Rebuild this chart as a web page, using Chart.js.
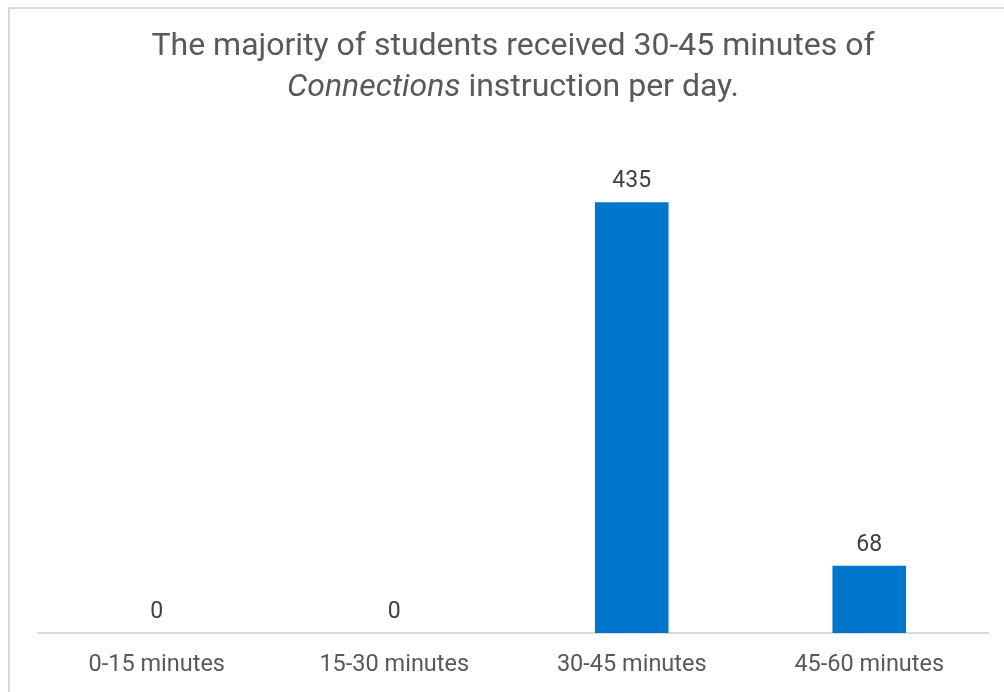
<!DOCTYPE html>
<html>
<head>
<meta charset="utf-8">
<script src="https://cdn.jsdelivr.net/npm/chart.js@4"></script>
<style>
    html, body { margin: 0; padding: 0; background: #fff; overflow: hidden; }
    #frame {
        position: absolute; left: 8px; top: 7px;
        width: 1100px; height: 800px;
        border-left: 2px solid #d9d9d9; border-top: 2px solid #d9d9d9;
    }
    #wrap { position: absolute; left: 0; top: 0; width: 1004px; height: 692px; }
</style>
</head>
<body>
<div id="frame"></div>
<div id="wrap"><canvas id="chart"></canvas></div>
<script>
const categories = ['0-15 minutes', '15-30 minutes', '30-45 minutes', '45-60 minutes'];
const students = [0, 0, 435, 68];
const titleLine1 = 'The majority of students received 30-45 minutes of';
const titleItalic = 'Connections';
const titleRest = ' instruction per day.';

// two-line title, second line has an italic word
const titlePlugin = {
    id: 'mixedTitle',
    afterDraw(chart) {
        let ctx = chart.ctx;
        let cx = (chart.chartArea.left + chart.chartArea.right) / 2;
        ctx.save();
        ctx.fillStyle = '#595959';
        ctx.textBaseline = 'alphabetic';
        ctx.font = '32px Roboto';
        ctx.textAlign = 'center';
        ctx.fillText(titleLine1, cx, 55);
        ctx.textAlign = 'left';
        ctx.font = 'italic 32px Roboto';
        let w1 = ctx.measureText(titleItalic).width;
        ctx.font = '32px Roboto';
        let w2 = ctx.measureText(titleRest).width;
        let x = cx - (w1 + w2) / 2;
        ctx.font = 'italic 32px Roboto';
        ctx.fillText(titleItalic, x, 96);
        ctx.font = '32px Roboto';
        ctx.fillText(titleRest, x + w1, 96);
        ctx.restore();
    }
};

// value labels above each bar
const valuePlugin = {
    id: 'values',
    afterDatasetsDraw(chart) {
        let ctx = chart.ctx;
        let meta = chart.getDatasetMeta(0);
        ctx.save();
        ctx.fillStyle = '#404040';
        ctx.font = '23px Roboto';
        ctx.textAlign = 'center';
        ctx.textBaseline = 'alphabetic';
        meta.data.forEach((bar, i) => {
            ctx.fillText(String(students[i]), bar.x, bar.y - 15);
        });
        ctx.restore();
    }
};

new Chart(document.getElementById('chart'), {
    type: 'bar',
    data: {
        labels: categories,
        datasets: [{
            data: students,
            backgroundColor: '#0076CE',
            barPercentage: 0.31,
            categoryPercentage: 1
        }]
    },
    options: {
        responsive: true,
        maintainAspectRatio: false,
        animation: false,
        layout: { padding: { left: 38, right: 16, top: 138, bottom: 15 } },
        plugins: {
            legend: { display: false },
            tooltip: { enabled: false }
        },
        scales: {
            x: {
                grid: { display: false, drawTicks: false },
                border: { display: true, color: '#d9d9d9', width: 2 },
                ticks: {
                    color: '#595959',
                    font: { family: 'Roboto', size: 23.5 },
                    padding: 18,
                    maxRotation: 0
                },
                afterFit(scale) { scale.height = 44; }
            },
            y: {
                display: false,
                min: 0,
                max: 500
            }
        }
    },
    plugins: [titlePlugin, valuePlugin]
});
</script>
</body>
</html>
